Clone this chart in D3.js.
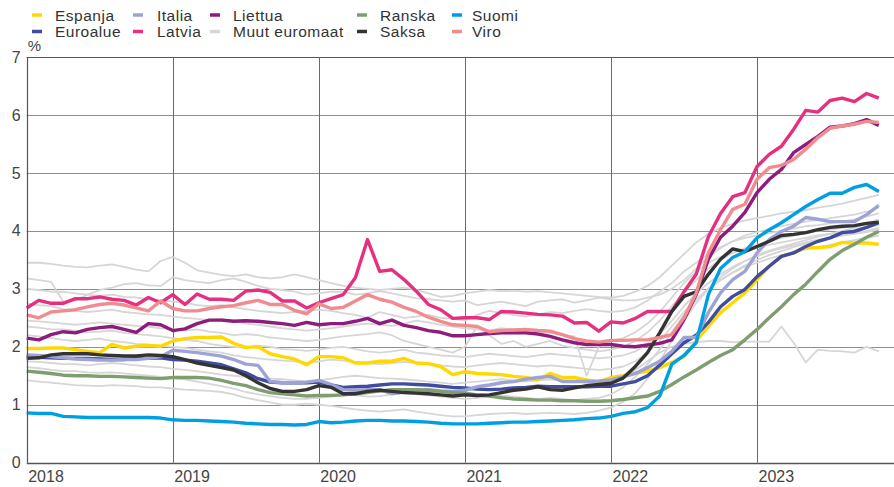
<!DOCTYPE html>
<html><head><meta charset="utf-8">
<script src="https://cdn.jsdelivr.net/npm/d3@7"></script>
<style>
body{margin:0;background:#fff;}
svg{display:block;font-family:"Liberation Sans",Arial,Helvetica,sans-serif;}
</style></head>
<body><svg id="c" width="894" height="487"></svg>
<script>
// ---- data (monthly, Jan 2018 .. Nov 2023) ----
const startYear = 2018;
const yearLabels = ["2018","2019","2020","2021","2022","2023"];
const yTicks = [0,1,2,3,4,5,6,7];
const unitLabel = "%";

const espanja = [1.97,1.97,1.98,1.98,1.95,1.92,1.90,2.04,1.98,2.01,2.02,2.01,
 2.10,2.14,2.16,2.16,2.17,2.06,1.99,2.00,1.88,1.83,1.79,1.69,
 1.83,1.83,1.81,1.72,1.72,1.75,1.75,1.80,1.72,1.71,1.66,1.52,
 1.57,1.54,1.53,1.52,1.49,1.47,1.43,1.54,1.47,1.47,1.43,1.39,
 1.47,1.50,1.54,1.58,1.64,1.73,1.83,2.10,2.35,2.59,2.76,2.93,
 3.16,3.39,3.56,3.62,3.71,3.71,3.73,3.80,3.79,3.79,3.77];
const euroalue = [1.84,1.82,1.81,1.80,1.80,1.80,1.79,1.78,1.78,1.80,1.80,1.81,
 1.78,1.77,1.75,1.72,1.69,1.62,1.55,1.45,1.39,1.38,1.38,1.38,
 1.39,1.34,1.30,1.31,1.32,1.34,1.36,1.36,1.35,1.34,1.32,1.30,
 1.29,1.27,1.26,1.27,1.29,1.30,1.32,1.31,1.31,1.31,1.31,1.32,
 1.32,1.36,1.40,1.50,1.68,1.88,2.07,2.20,2.42,2.69,2.87,2.99,
 3.21,3.39,3.56,3.62,3.73,3.82,3.88,3.97,3.99,4.06,4.14];
const italia = [1.86,1.85,1.83,1.81,1.79,1.78,1.77,1.77,1.78,1.78,1.80,1.83,
 1.94,1.92,1.90,1.87,1.84,1.78,1.70,1.68,1.40,1.38,1.38,1.39,
 1.42,1.35,1.26,1.25,1.26,1.26,1.19,1.22,1.25,1.26,1.24,1.23,
 1.25,1.31,1.34,1.38,1.40,1.44,1.47,1.49,1.40,1.40,1.40,1.41,
 1.43,1.48,1.54,1.64,1.75,1.92,2.16,2.16,2.59,2.93,3.16,3.30,
 3.62,3.85,3.99,4.08,4.23,4.20,4.16,4.16,4.16,4.28,4.44];
const latvia = [2.67,2.80,2.75,2.75,2.83,2.83,2.86,2.82,2.80,2.72,2.85,2.76,
 2.90,2.73,2.91,2.82,2.82,2.80,2.96,2.98,2.94,2.79,2.79,2.67,
 2.76,2.83,2.90,3.19,3.85,3.30,3.33,3.16,2.96,2.73,2.64,2.49,
 2.50,2.50,2.47,2.61,2.60,2.58,2.56,2.55,2.53,2.41,2.42,2.27,
 2.43,2.41,2.49,2.61,2.61,2.61,2.95,3.25,3.90,4.30,4.59,4.66,
 5.11,5.32,5.46,5.75,6.08,6.05,6.25,6.29,6.23,6.37,6.29];
const liettua = [2.15,2.12,2.21,2.26,2.24,2.30,2.33,2.35,2.30,2.25,2.40,2.38,
 2.28,2.31,2.40,2.46,2.46,2.44,2.45,2.44,2.42,2.40,2.37,2.42,
 2.38,2.40,2.40,2.44,2.49,2.40,2.46,2.37,2.33,2.28,2.25,2.19,
 2.19,2.21,2.23,2.24,2.24,2.24,2.22,2.18,2.12,2.07,2.04,2.04,
 2.04,2.01,2.00,2.03,2.06,2.12,2.47,2.90,3.51,3.89,4.08,4.32,
 4.66,4.89,5.06,5.35,5.49,5.63,5.79,5.81,5.85,5.92,5.82];
const ranska = [1.58,1.56,1.54,1.51,1.50,1.50,1.49,1.49,1.48,1.47,1.46,1.45,
 1.47,1.47,1.47,1.46,1.42,1.37,1.33,1.26,1.21,1.19,1.17,1.15,
 1.16,1.16,1.17,1.19,1.21,1.24,1.26,1.26,1.26,1.25,1.23,1.21,
 1.20,1.17,1.15,1.12,1.10,1.09,1.08,1.08,1.07,1.07,1.06,1.06,
 1.07,1.09,1.12,1.15,1.23,1.35,1.48,1.60,1.73,1.85,1.95,2.12,
 2.30,2.50,2.69,2.90,3.08,3.30,3.51,3.66,3.77,3.89,3.99];
const saksa = [1.80,1.81,1.86,1.88,1.88,1.88,1.86,1.85,1.84,1.84,1.86,1.85,
 1.83,1.78,1.72,1.68,1.64,1.60,1.50,1.38,1.28,1.23,1.23,1.26,
 1.33,1.30,1.19,1.19,1.23,1.25,1.23,1.21,1.20,1.19,1.17,1.15,
 1.17,1.16,1.17,1.21,1.25,1.27,1.31,1.26,1.25,1.29,1.33,1.35,
 1.37,1.46,1.66,1.90,2.24,2.61,2.87,2.95,3.25,3.51,3.69,3.64,
 3.73,3.82,3.92,3.94,3.97,4.02,4.06,4.08,4.09,4.13,4.15];
const suomi = [0.86,0.85,0.85,0.80,0.79,0.78,0.78,0.78,0.78,0.78,0.78,0.77,
 0.74,0.73,0.73,0.72,0.71,0.70,0.68,0.67,0.66,0.66,0.65,0.66,
 0.71,0.69,0.70,0.72,0.73,0.73,0.72,0.72,0.71,0.70,0.68,0.67,
 0.67,0.67,0.68,0.69,0.70,0.70,0.71,0.72,0.73,0.74,0.76,0.77,
 0.80,0.85,0.88,0.95,1.15,1.70,1.85,2.07,2.90,3.35,3.54,3.64,
 3.88,4.02,4.14,4.28,4.42,4.54,4.65,4.65,4.75,4.80,4.68];
const viro = [2.55,2.50,2.60,2.62,2.64,2.69,2.73,2.75,2.72,2.67,2.62,2.79,
 2.66,2.62,2.62,2.66,2.69,2.71,2.76,2.80,2.73,2.73,2.63,2.57,
 2.74,2.66,2.68,2.79,2.90,2.82,2.77,2.68,2.61,2.51,2.44,2.38,
 2.37,2.35,2.26,2.28,2.29,2.30,2.28,2.27,2.21,2.14,2.10,2.08,
 2.11,2.11,2.12,2.12,2.16,2.21,2.50,2.93,3.62,4.02,4.37,4.46,
 4.89,5.09,5.13,5.23,5.41,5.61,5.77,5.81,5.84,5.89,5.87];

// "Muut euromaat" (other euro countries)
const muut1 = [3.45,3.45,3.43,3.40,3.38,3.37,3.40,3.42,3.38,3.33,3.30,3.48,
 3.55,3.45,3.32,3.28,3.24,3.22,3.25,3.20,3.18,3.20,3.25,3.20,
 3.15,3.10,3.05,3.02,3.00,2.98,3.00,3.02,2.98,2.92,2.86,2.88,
 2.92,2.95,2.98,2.96,2.97,2.95,2.96,2.94,2.92,2.90,2.88,2.86,
 2.85,2.88,2.95,3.05,3.20,3.40,3.60,3.80,3.95,4.05,4.12,4.18,
 4.22,4.26,4.30,4.33,4.36,4.40,4.43,4.47,4.52,4.57,4.62];
const muut2 = [3.18,3.15,3.12,2.78,2.80,2.90,2.98,3.02,3.08,3.10,3.06,3.05,
 3.20,3.15,3.12,3.10,3.15,3.18,3.12,3.05,3.00,2.98,2.95,2.90,
 2.92,2.95,2.95,2.90,2.92,2.96,2.92,2.88,2.84,2.82,2.80,2.78,
 2.80,2.72,2.75,2.78,2.74,2.70,2.78,2.80,2.82,2.76,2.80,2.85,
 2.82,2.80,2.80,2.85,2.90,3.00,3.15,3.35,3.55,3.70,3.82,3.92,
 3.98,4.03,4.08,4.12,4.16,4.19,4.22,4.25,4.28,4.33,4.40];
const muut3 = [3.00,2.98,2.95,2.95,2.92,2.90,2.88,2.90,2.86,2.85,2.82,2.80,
 2.78,2.76,2.72,2.70,2.72,2.68,2.65,2.62,2.60,2.58,2.60,2.62,
 2.64,2.62,2.58,2.55,2.50,2.60,2.55,2.50,2.52,2.55,2.50,2.48,
 2.45,2.55,2.62,2.58,2.55,2.52,2.56,2.60,2.58,2.62,2.65,2.62,
 2.60,2.62,2.68,2.80,2.95,3.10,3.30,3.45,3.60,3.72,3.82,3.88,
 3.92,3.96,4.00,4.04,4.08,4.10,4.13,4.16,4.20,4.25,4.30];
const muut4 = [2.45,2.44,2.42,2.40,2.38,2.40,2.42,2.40,2.38,2.36,2.35,2.32,
 2.30,2.28,2.30,2.26,2.24,2.20,2.22,2.20,2.16,2.14,2.12,2.10,
 2.12,2.15,2.18,2.20,2.22,2.25,2.20,2.10,2.05,2.00,1.95,1.90,
 2.00,2.35,2.20,2.05,2.10,2.00,2.05,2.10,2.02,1.98,1.95,1.92,
 1.95,2.00,2.10,2.25,2.45,2.70,2.95,3.15,3.35,3.50,3.62,3.70,
 3.76,3.82,3.88,3.92,3.96,4.00,4.02,4.05,4.08,4.12,4.15];
const muut5 = [2.35,2.33,2.30,2.30,2.28,2.25,2.26,2.28,2.24,2.22,2.20,2.18,
 2.15,2.12,2.10,2.05,2.02,2.00,1.98,2.02,2.00,1.96,1.95,1.93,
 1.95,1.98,2.00,1.96,1.92,1.90,1.92,1.95,1.90,1.88,1.85,1.84,
 1.82,1.85,1.88,1.86,1.84,1.82,1.85,1.88,1.86,1.84,1.82,1.80,
 1.82,1.85,1.92,2.05,2.22,2.45,2.70,2.92,3.10,3.25,3.38,3.48,
 3.56,3.64,3.70,3.75,3.80,3.85,3.88,3.92,3.95,3.98,4.02];
const muut6 = [2.20,2.18,2.15,2.12,2.10,2.12,2.14,2.10,2.08,2.05,2.04,2.02,
 2.00,1.98,1.95,1.92,1.90,1.85,1.82,1.80,1.78,1.76,1.75,1.72,
 1.75,1.78,1.76,1.74,1.72,1.70,1.72,1.74,1.72,1.70,1.68,1.66,
 1.65,1.68,1.70,1.72,1.70,1.68,1.66,1.68,1.66,1.64,1.62,1.60,
 1.62,1.66,1.75,1.90,2.10,2.35,2.60,2.82,3.00,3.15,3.28,3.38,
 3.45,3.52,3.58,3.63,3.68,3.72,3.76,3.80,3.84,3.88,3.92];
const muut7 = [1.75,1.74,1.72,1.70,1.70,1.68,1.70,1.72,1.70,1.68,1.66,1.65,
 1.62,1.60,1.58,1.55,1.52,1.50,1.48,1.46,1.45,1.44,1.42,1.40,
 1.42,1.45,1.48,1.50,1.48,1.46,1.45,1.44,1.42,1.40,1.38,1.36,
 1.38,1.40,1.42,1.44,1.42,1.40,1.42,1.44,1.42,1.40,1.38,1.36,
 1.40,1.48,1.60,1.75,1.90,2.00,2.05,2.08,2.10,2.10,2.08,2.09,
 2.09,2.09,2.35,2.07,1.73,1.95,1.93,1.92,1.90,2.00,1.92];
const muut8 = [1.65,1.63,1.60,1.58,1.58,1.56,1.55,1.56,1.54,1.52,1.50,1.48,
 1.46,1.44,1.40,1.36,1.32,1.28,1.22,1.18,1.15,1.12,1.10,1.10,
 1.12,1.15,1.18,1.16,1.14,1.15,1.18,1.20,1.18,1.16,1.14,1.12,
 1.10,1.12,1.14,1.16,1.14,1.12,1.10,1.12,1.10,1.08,1.10,1.12,
 1.18,1.30,1.48,1.70,1.95,2.25,2.55,2.80,3.00,3.15,3.28,3.40,
 3.50,3.58,3.65,3.72,3.78,3.84,3.88,3.92,3.96,4.00,4.05];
const muut9 = [1.42,1.40,1.38,1.36,1.34,1.33,1.32,1.34,1.33,1.32,1.30,1.30,
 1.28,1.26,1.25,1.24,1.22,1.18,1.12,1.08,1.04,1.00,1.00,1.02,
 1.00,0.98,0.95,0.92,0.90,0.88,0.90,0.92,0.88,0.85,0.82,0.80,
 0.80,0.82,0.84,0.85,0.86,0.84,0.85,0.86,0.85,0.84,0.86,0.90,
 0.95,1.05,1.20,1.45,1.75,2.10,2.45,2.75,3.00,3.20,3.35,3.48,
 3.58,3.66,3.72,3.78,3.84,3.90,3.95,4.00,4.05,4.12,4.20];
const muut10 = [2.75,2.72,2.70,2.65,2.62,2.60,2.62,2.64,2.60,2.58,2.56,2.55,
 2.52,2.50,2.48,2.46,2.48,2.45,2.40,2.38,2.35,2.32,2.30,2.28,
 2.30,2.32,2.35,2.38,2.40,2.38,2.36,2.40,2.45,2.42,2.38,2.35,
 2.32,2.30,2.28,2.32,2.30,2.28,2.26,2.24,2.20,2.18,1.50,2.00,
 2.10,2.15,2.25,2.40,2.60,2.85,3.10,3.30,3.45,3.55,3.62,3.68,
 3.72,3.76,3.80,3.84,3.88,3.92,3.95,3.98,4.02,4.06,4.10];

const muutSeries = [muut1,muut2,muut3,muut4,muut5,muut6,muut7,muut8,muut9,muut10];

const seriesNames = ["Espanja","Euroalue","Italia","Latvia","Liettua","Ranska","Saksa","Suomi","Viro"];
const seriesValues = [espanja,euroalue,italia,latvia,liettua,ranska,saksa,suomi,viro];
const seriesColors = ["#FFD800","#3F4C9F","#9EA3D5","#E5307F","#8D1C7D","#7F9E70","#333333","#009FE3","#F08B8F"];
const muutName = "Muut euromaat";
const muutColor = "#D6D6D6";

const legendItems = [
  ["Espanja","#FFD800"],["Euroalue","#3F4C9F"],
  ["Italia","#9EA3D5"],["Latvia","#E5307F"],
  ["Liettua","#8D1C7D"],[muutName,muutColor],
  ["Ranska","#7F9E70"],["Saksa","#333333"],
  ["Suomi","#009FE3"],["Viro","#F08B8F"]
];

// ---- layout ----
const padL = 26.7, padR = 894, padT = 57, padB = 462.7;
const svg = d3.select("#c");

const x = d3.scaleLinear().domain([0, 71.25]).range([padL, padR]);
const y = d3.scaleLinear().domain([0, 7]).range([padB, padT]);

const g = svg.append("g");
g.selectAll("line.h").data(yTicks.filter(d => d > 0)).join("line")
  .attr("x1", padL).attr("x2", padR)
  .attr("y1", d => Math.round(y(d)) + 0.5).attr("y2", d => Math.round(y(d)) + 0.5)
  .attr("stroke", d => d === 7 ? "#555" : "#8f8f8f").attr("stroke-width", 1);

const yearIdx = yearLabels.map((d, i) => i * 12);
g.selectAll("line.v").data(yearIdx.slice(1)).join("line")
  .attr("x1", d => Math.round(x(d)) + 0.5).attr("x2", d => Math.round(x(d)) + 0.5)
  .attr("y1", padT).attr("y2", padB)
  .attr("stroke", "#6a6a6a").attr("stroke-width", 1);

const yAxis = d3.axisLeft(y).tickValues(yTicks).tickSize(0).tickPadding(6).tickFormat(d3.format("d"));
const ya = svg.append("g").attr("transform", `translate(${padL},0)`).call(yAxis);
ya.select(".domain").remove();
ya.selectAll("text").attr("font-size", 16).attr("fill", "#444")
  .attr("font-family", '"Liberation Sans",Arial,sans-serif');

const xAxis = d3.axisBottom(x).tickValues(yearIdx).tickSize(0).tickPadding(6)
  .tickFormat((d, i) => yearLabels[i]);
const xa = svg.append("g").attr("transform", `translate(0,${padB})`).call(xAxis);
xa.select(".domain").remove();
xa.selectAll("text").attr("font-size", 16).attr("fill", "#444").attr("text-anchor", "start")
  .attr("dx", 1).attr("dy", "0.85em")
  .attr("font-family", '"Liberation Sans",Arial,sans-serif');

svg.append("text").attr("x", padL + 1).attr("y", 51).attr("font-size", 15).attr("fill", "#444").text(unitLabel);

const line = d3.line().x((d, i) => x(i)).y(d => y(d)).curve(d3.curveLinear);
const plot = svg.append("g");
plot.selectAll("path.muut").data(muutSeries).join("path")
  .attr("d", line).attr("fill", "none").attr("stroke", muutColor)
  .attr("stroke-width", 1.8).attr("stroke-linejoin", "round");
plot.selectAll("path.s").data(seriesValues).join("path")
  .attr("d", line).attr("fill", "none").attr("stroke", (d, i) => seriesColors[i])
  .attr("stroke-width", 3.4).attr("stroke-linejoin", "round").attr("stroke-linecap", "butt");

svg.append("line").attr("x1", Math.round(padL) + 0.5).attr("x2", Math.round(padL) + 0.5)
  .attr("y1", padT).attr("y2", padB).attr("stroke", "#555").attr("stroke-width", 1.2);
svg.append("line").attr("x1", padL).attr("x2", padR)
  .attr("y1", Math.round(padB) + 0.5).attr("y2", Math.round(padB) + 0.5).attr("stroke", "#555").attr("stroke-width", 1.4);

const colX = [32, 133, 210, 357, 452];
const textOff = [23, 24, 23, 23, 20];
const rowY = [15, 31.5];
const lg = svg.append("g");
legendItems.forEach((it, k) => {
  const c = Math.floor(k / 2), r = k % 2;
  lg.append("line").attr("x1", colX[c]).attr("x2", colX[c] + 10)
    .attr("y1", rowY[r]).attr("y2", rowY[r]).attr("stroke", it[1]).attr("stroke-width", 3.5);
  lg.append("text").attr("x", colX[c] + textOff[c]).attr("y", rowY[r] + 5.5)
    .attr("font-size", 15.5).attr("letter-spacing", 0.5).attr("fill", "#333").text(it[0]);
});
</script></body></html>
